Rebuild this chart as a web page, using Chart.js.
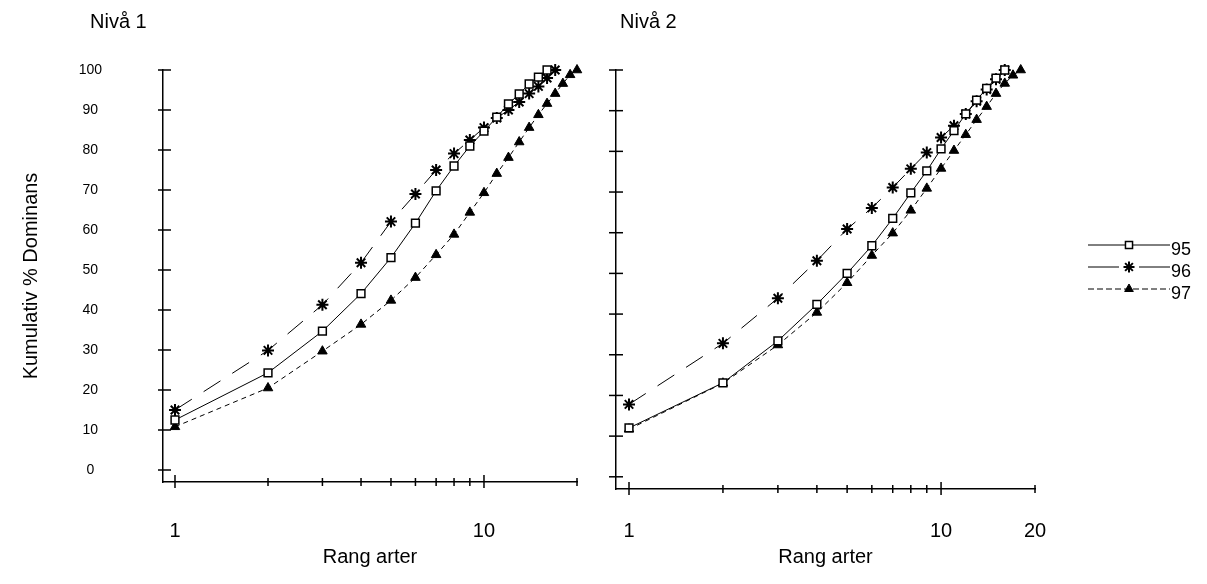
<!DOCTYPE html>
<html>
<head>
<meta charset="utf-8">
<script src="https://cdn.jsdelivr.net/npm/chart.js@4.4.1/dist/chart.umd.min.js"></script>
<style>
  body { margin: 0; background: #fff; font-family: "Liberation Sans", Arial, sans-serif; }
  #wrap { position: relative; width: 1207px; height: 584px; }
  canvas { position: absolute; top: 0; }
  .panel-title { position: absolute; top: 10px; font-size: 20px; color: #000; }
</style>
</head>
<body>
<div id="wrap">
  <canvas id="niva1" width="600" height="584" style="left:0"></canvas>
  <canvas id="niva2" width="607" height="584" style="left:600px"></canvas>
  <div class="panel-title" style="left:90px">Nivå 1</div>
  <div class="panel-title" style="left:620px">Nivå 2</div>
</div>
<script>
// series names (years) and axis ticks
const seriesNames = ['95', '96', '97'];
const xTickValues = [1, 2, 3, 4, 5, 6, 7, 8, 9, 10, 20];
const xMajorTicks = [1, 10];
const xLabels1 = ['1', '10'];
const xLabels2 = ['1', '10', '20'];
const yTickValues = [0, 10, 20, 30, 40, 50, 60, 70, 80, 90, 100];

// cumulative % dominance by species rank (rank = index + 1)
const niva1_95 = [12.5, 24.3, 34.7, 44.1, 53.1, 61.7, 69.8, 76, 81, 84.7, 88.2, 91.5, 94, 96.5, 98.2, 100];
const niva1_96 = [15, 29.9, 41.3, 51.8, 62.1, 69, 75, 79.1, 82.5, 85.6, 88, 90, 92, 94.1, 95.9, 98, 100];
const niva1_97 = [10.8, 20.5, 29.7, 36.4, 42.4, 48.1, 53.8, 58.9, 64.4, 69.3, 74.1, 78.1, 82, 85.6, 88.8, 91.6, 94.1, 96.6, 98.8, 100];

const niva2_95 = [12, 23.1, 33.4, 42.4, 50, 56.8, 63.5, 69.8, 75.2, 80.6, 85.1, 89.2, 92.6, 95.5, 98, 100];
const niva2_96 = [17.8, 32.8, 43.9, 53.1, 60.9, 66.1, 71.1, 75.7, 79.7, 83.4, 86.3, 89.2, 92.3, 95.2, 97.7, 100];
const niva2_97 = [11.7, 23, 32.4, 40.4, 47.7, 54.4, 59.9, 65.5, 70.9, 75.8, 80.2, 84.1, 87.8, 91, 94.2, 96.7, 98.7, 100];

Chart.defaults.font.family = '"Liberation Sans", Arial, sans-serif';
Chart.defaults.color = '#000';

const lineStyles = [
  { borderDash: [], pointStyle: 'rect', pointRadius: 5.5, pointBackgroundColor: '#fff', pointBorderWidth: 1.5 },
  { borderDash: [20, 14], pointStyle: 'star', pointRadius: 6, pointBackgroundColor: '#000', pointBorderWidth: 2 },
  { borderDash: [5, 4], pointStyle: 'triangle', pointRadius: 5.5, pointBackgroundColor: '#000', pointBorderWidth: 1 }
];
const legendDash = [[], [31, 20], [6, 3]];

function makeDatasets(seriesList) {
  return seriesList.map((vals, i) => Object.assign({
    label: seriesNames[i],
    data: vals.map((v, k) => ({ x: k + 1, y: v })),
    borderColor: '#000',
    borderWidth: 1,
    pointBorderColor: '#000',
    tension: 0,
    clip: false
  }, lineStyles[i]));
}

// small tick marks crossing both axes
const axisTicks = {
  id: 'axisTicks',
  afterDraw(chart, args, opts) {
    const { ctx, chartArea: a, scales: { x, y } } = chart;
    ctx.save();
    ctx.strokeStyle = '#000';
    ctx.lineWidth = 1.5;
    y.ticks.forEach(t => {
      const py = y.getPixelForValue(t.value);
      ctx.beginPath();
      ctx.moveTo(a.left - opts.yOut, py);
      ctx.lineTo(a.left + opts.yIn, py);
      ctx.stroke();
    });
    x.ticks.forEach(t => {
      const px = x.getPixelForValue(t.value);
      const major = xMajorTicks.includes(t.value);
      ctx.beginPath();
      ctx.moveTo(px, a.bottom - (major ? 7 : 4));
      ctx.lineTo(px, a.bottom + (major ? 6 : 4));
      ctx.stroke();
    });
    ctx.restore();
  }
};

// legend to the right: line sample with marker in the middle
const sideLegend = {
  id: 'sideLegend',
  afterDraw(chart, args, opts) {
    const { ctx } = chart;
    chart.data.datasets.forEach((ds, i) => {
      const y = opts.top + i * opts.gap;
      ctx.save();
      ctx.strokeStyle = '#000';
      ctx.lineWidth = 1;
      ctx.setLineDash(legendDash[i]);
      ctx.beginPath();
      ctx.moveTo(opts.x1, y);
      ctx.lineTo(opts.x2, y);
      ctx.stroke();
      ctx.setLineDash([]);
      ctx.fillStyle = ds.pointBackgroundColor;
      ctx.lineWidth = ds.pointBorderWidth;
      Chart.helpers.drawPoint(ctx, {
        pointStyle: ds.pointStyle, radius: ds.pointRadius - 0.5,
        borderWidth: ds.pointBorderWidth, rotation: 0
      }, (opts.x1 + opts.x2) / 2, y);
      ctx.fillStyle = '#000';
      ctx.font = opts.font;
      ctx.textBaseline = 'middle';
      ctx.fillText(ds.label, opts.x2 + 1, y + 5);
      ctx.restore();
    });
  }
};

function panelConfig(seriesList, o) {
  return {
    type: 'line',
    data: { datasets: makeDatasets(seriesList) },
    options: {
      responsive: false,
      animation: false,
      events: [],
      layout: { padding: o.padding },
      plugins: {
        legend: { display: false },
        tooltip: { enabled: false },
        axisTicks: { yOut: o.yOut, yIn: o.yIn },
        sideLegend: o.legend
      },
      scales: {
        x: {
          type: 'logarithmic',
          min: o.xMin,
          max: 20,
          bounds: 'data',
          afterBuildTicks: s => { s.ticks = xTickValues.map(v => ({ value: v })); },
          afterFit: s => { s.height = o.xHeight; },
          // invisible tick marks only push the labels down
          grid: { display: true, drawOnChartArea: false, drawTicks: true, tickLength: o.xGap, tickColor: 'rgba(0,0,0,0)' },
          border: { display: true, color: '#000', width: 1.5 },
          ticks: {
            autoSkip: false, maxRotation: 0, padding: 0,
            font: { size: 20 },
            callback: v => o.xLabels.includes(String(v)) ? String(v) : ''
          },
          title: { display: true, text: 'Rang arter', font: { size: 20 }, padding: { top: 0, bottom: 15 } }
        },
        y: {
          min: -3,
          max: 100,
          bounds: 'data',
          afterBuildTicks: s => { s.ticks = yTickValues.map(v => ({ value: v })); },
          afterFit: s => { s.width = o.yWidth; },
          grid: { display: false },
          border: { display: true, color: '#000', width: 1.5 },
          ticks: { display: o.yLabels, crossAlign: 'center', padding: 53, font: { size: 14 } },
          title: { display: o.yLabels, text: 'Kumulativ % Dominans', font: { size: 20 }, padding: { top: 19, bottom: 0 } }
        }
      }
    },
    plugins: o.legend ? [axisTicks, sideLegend] : [axisTicks]
  };
}

new Chart(document.getElementById('niva1'), panelConfig([niva1_95, niva1_96, niva1_97], {
  padding: { left: 0, top: 70, right: 23, bottom: 0 },
  xMin: 0.9145, xHeight: 102, xGap: 37, xLabels: xLabels1,
  yWidth: 163, yLabels: true, yOut: 5, yIn: 8,
  legend: false
}));

new Chart(document.getElementById('niva2'), panelConfig([niva2_95, niva2_96, niva2_97], {
  padding: { left: 0, top: 70, right: 172, bottom: 0 },
  xMin: 0.9085, xHeight: 95, xGap: 30, xLabels: xLabels2,
  yWidth: 16, yLabels: false, yOut: 7, yIn: 7,
  legend: { x1: 488, x2: 570, top: 245, gap: 22, font: '18px "Liberation Sans", Arial, sans-serif' }
}));
</script>
</body>
</html>
